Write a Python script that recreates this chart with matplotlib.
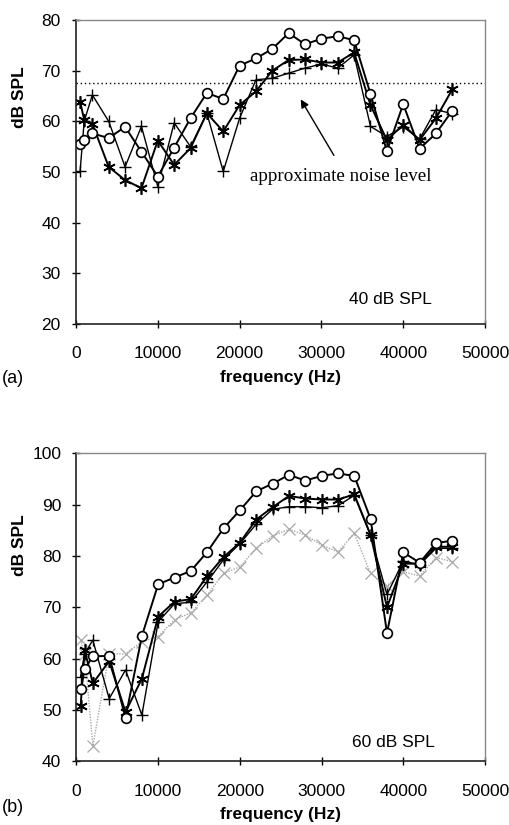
import matplotlib
matplotlib.use("Agg")
import matplotlib.pyplot as plt

plt.rcParams['font.family'] = ['Liberation Sans', 'DejaVu Sans']

# frequencies (Hz)
freq = [500, 1000, 2000, 4000, 6000, 8000, 10000, 12000, 14000, 16000, 18000, 20000,
        22000, 24000, 26000, 28000, 30000, 32000, 34000, 36000, 38000, 40000, 42000,
        44000, 46000]

# (a) 40 dB SPL
a_circle = [55.5, 56.3, 57.6, 56.7, 58.9, 54.0, 49.1, 54.8, 60.6, 65.6, 64.4, 71.0,
            72.4, 74.3, 77.4, 75.2, 76.3, 76.8, 76.0, 65.4, 54.1, 63.4, 54.6, 57.6, 62.1]
a_star = [63.9, 60.3, 59.5, 51.0, 48.4, 46.8, 56.2, 51.4, 54.7, 61.6, 58.0, 63.2,
          65.9, 70.0, 72.1, 72.2, 71.6, 71.6, 73.6, 63.2, 56.3, 59.3, 56.3, 60.6, 66.3]
a_plus = [50.1, 60.0, 65.2, 60.0, 51.0, 59.0, 47.1, 59.7, 55.0, 61.6, 50.1, 60.6,
          68.2, 68.5, 69.5, 70.5, 71.3, 70.5, 73.1, 59.0, 57.0, 58.9, 56.5, 62.3, 61.5]
noise_level = 67.5

# (b) 60 dB SPL
b_circle = [54.0, 57.9, 60.5, 60.5, 48.5, 64.4, 74.5, 75.8, 77.1, 80.8, 85.4, 88.9,
            92.6, 94.1, 95.8, 94.7, 95.6, 96.1, 95.6, 87.2, 65.0, 80.7, 78.7, 82.5, 83.0]
b_star = [50.7, 61.7, 55.2, 59.5, 49.6, 56.1, 68.2, 71.1, 71.6, 76.1, 79.8, 82.6,
          87.1, 89.5, 91.7, 91.2, 91.0, 91.0, 92.0, 84.1, 70.0, 78.5, 78.5, 81.8, 81.8]
b_plus = [56.5, 61.0, 63.6, 52.2, 57.8, 49.0, 67.2, 70.7, 71.0, 75.0, 79.3, 82.4,
          86.2, 89.1, 89.6, 89.6, 89.4, 89.8, 91.8, 84.0, 72.5, 79.0, 78.3, 81.5, 81.5]
b_gray = [63.7, 61.0, 43.0, 61.0, 60.9, 63.3, 64.3, 67.6, 68.9, 72.4, 76.6, 77.9,
          81.5, 83.9, 85.2, 84.1, 82.1, 80.8, 84.4, 76.6, 74.2, 76.9, 76.1, 79.7, 78.9]

fig = plt.figure(figsize=(5.10, 8.25), dpi=100, facecolor='white')
ax1 = fig.add_axes([0.149, 0.6073, 0.802, 0.3685])
ax2 = fig.add_axes([0.150, 0.0772, 0.801, 0.3733])

star = (6, 2, 0)


def style_axes(ax, ylim, yticks):
    ax.set_xlim(0, 50000)
    ax.set_ylim(*ylim)
    ax.set_xticks(range(0, 50001, 10000))
    ax.set_yticks(yticks)
    ax.tick_params(direction='inout', length=6, width=1, labelsize=12.5, color='black')
    ax.tick_params(axis='y', pad=8)
    ax.tick_params(axis='x', pad=13)
    for side in ['left', 'bottom']:
        ax.spines[side].set_color('#222222')
        ax.spines[side].set_linewidth(1.2)
    for side in ['top', 'right']:
        ax.spines[side].set_color('#888888')
        ax.spines[side].set_linewidth(1.0)


# (a)
ax1.axhline(noise_level, color='black', ls=(0, (1, 2)), lw=1)
ax1.plot(freq, a_plus, color='black', lw=1.0, marker='+', ms=9, mew=1.0)
ax1.plot(freq, a_star, color='black', lw=1.4, marker=star, ms=9, mew=1.2)
ax1.plot(freq, a_circle, color='black', lw=1.4, marker='o', ms=7, mfc='white', mew=1.2)
style_axes(ax1, (20, 80), range(20, 81, 10))
ax1.annotate('', xy=(27300, 64.8), xytext=(31700, 52.8),
             arrowprops=dict(arrowstyle='-|>', color='black', lw=1, mutation_scale=12))
ax1.text(21300, 49.1, 'approximate noise level', family='Liberation Serif', fontsize=13.7,
         ha='left', va='center')
ax1.text(33400, 24.8, '40 dB SPL', fontsize=12.5, ha='left', va='center')

# (b)
ax2.plot(freq, b_gray, color='#a8a8a8', lw=1.0, ls=(0, (1, 1)), marker='x', ms=9, mew=0.9)
ax2.plot(freq, b_plus, color='black', lw=1.0, marker='+', ms=9, mew=1.0)
ax2.plot(freq, b_star, color='black', lw=1.4, marker=star, ms=9, mew=1.2)
ax2.plot(freq, b_circle, color='black', lw=1.4, marker='o', ms=7, mfc='white', mew=1.2)
style_axes(ax2, (40, 100), range(40, 101, 10))
ax2.text(33700, 43.7, '60 dB SPL', fontsize=12.5, ha='left', va='center')

# labels
for ax in (ax1, ax2):
    ax.set_xlabel('frequency (Hz)', fontsize=12.5, fontweight='bold', labelpad=6)

fig.text(20 / 510, 1 - 97 / 825, 'dB SPL', rotation=90, fontsize=12.5, fontweight='bold',
         ha='center', va='center')
fig.text(20 / 510, 1 - 545 / 825, 'dB SPL', rotation=90, fontsize=12.5, fontweight='bold',
         ha='center', va='center')
fig.text(2 / 510, 1 - 378 / 825, '(a)', fontsize=13, ha='left', va='center')
fig.text(2 / 510, 1 - 808 / 825, '(b)', fontsize=13, ha='left', va='center')

fig.savefig('out.png', dpi=100)
